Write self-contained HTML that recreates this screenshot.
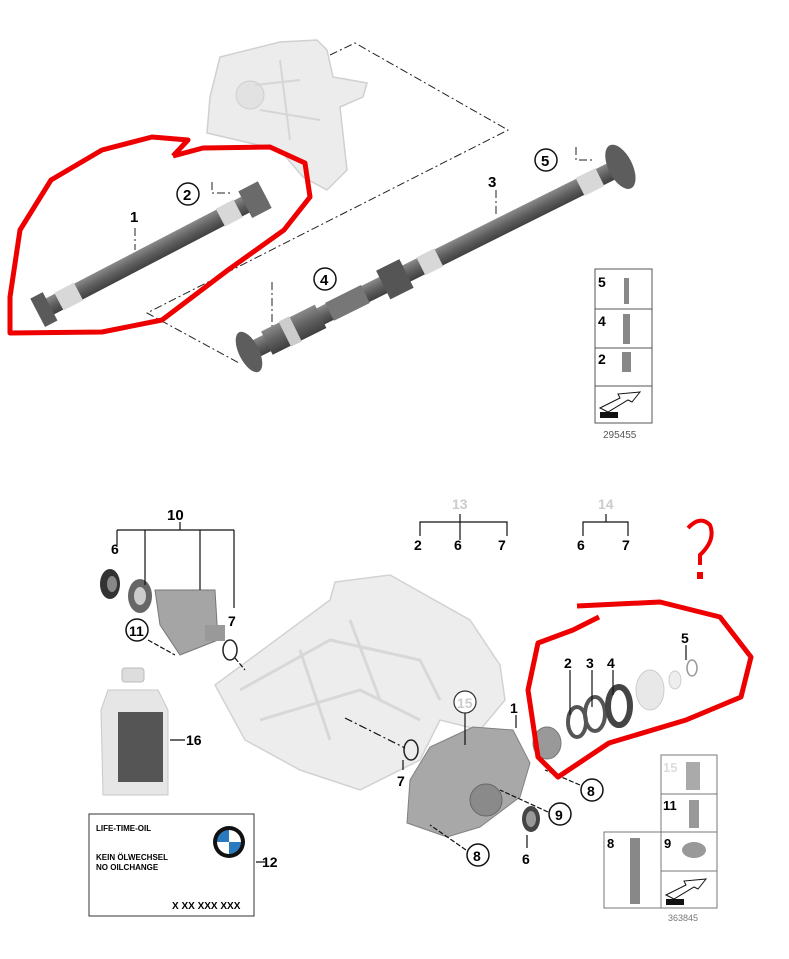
<!DOCTYPE html>
<html><head><meta charset="utf-8"><style>
html,body{margin:0;padding:0;background:#fff}
svg{display:block}
text{font-family:"Liberation Sans",Arial,sans-serif;font-weight:bold}
</style></head><body>
<svg width="789" height="959" viewBox="0 0 789 959" xmlns="http://www.w3.org/2000/svg">
<defs>
<linearGradient id="sh" x1="0" y1="0" x2="0" y2="1"><stop offset="0" stop-color="#8a8a8a"/><stop offset="0.5" stop-color="#606060"/><stop offset="1" stop-color="#404040"/></linearGradient>
</defs>
<path d="M220,57 L280,42 L317,40 L327,50 L333,77 L367,83 L363,97 L340,107 L347,170 L327,190 L303,177 L280,150 L207,133 L210,97 Z" fill="#ececec" stroke="#d0d0d0" stroke-width="1.5"/>
<circle cx="250" cy="95" r="14" fill="#e2e2e2" stroke="#cfcfcf"/>
<path d="M255,85 L300,80 M260,110 L320,120 M280,60 L290,140" stroke="#d6d6d6" stroke-width="2" fill="none"/>
<g stroke="#222" stroke-width="1" fill="none" stroke-dasharray="8,3,2,3">
<path d="M330,55 L355,43 L508,130 L147,313 L239,363"/>
<path d="M212,182 L212,193 L230,193"/>
<path d="M576,147 L576,160 L595,160"/>
<path d="M272,282 L272,335"/>
<path d="M135,228 L135,250"/>
<path d="M496,190 L496,215"/>
</g>
<g transform="translate(43,310) rotate(-27.5)">
<rect x="0" y="-9" width="250" height="18" fill="url(#sh)"/>
<rect x="18" y="-10" width="22" height="20" fill="#d8d8d8"/>
<rect x="200" y="-10" width="20" height="20" fill="#d8d8d8"/>
<rect x="-6" y="-16" width="14" height="32" fill="#5a5a5a"/>
<rect x="228" y="-15" width="22" height="30" fill="#6a6a6a"/>
</g>
<g transform="translate(249,352) rotate(-26.5)">
<rect x="0" y="-9" width="420" height="18" fill="url(#sh)"/>
<rect x="20" y="-13" width="60" height="26" fill="url(#sh)"/>
<rect x="40" y="-14" width="12" height="28" fill="#ccc"/>
<rect x="90" y="-10" width="40" height="20" fill="#777"/>
<rect x="150" y="-16" width="26" height="32" fill="#555"/>
<rect x="192" y="-10" width="20" height="20" fill="#d8d8d8"/>
<rect x="370" y="-10" width="22" height="20" fill="#d8d8d8"/>
<ellipse cx="0" cy="0" rx="10" ry="22" fill="#5d5d5d"/>
<ellipse cx="415" cy="0" rx="12" ry="24" fill="#5d5d5d"/>
</g>
<text x="130" y="222" font-size="15">1</text>
<text x="488" y="187" font-size="15">3</text>
<circle cx="188" cy="194" r="11" fill="#fff" stroke="#111" stroke-width="1.5"/><text x="183" y="200" font-size="15">2</text>
<circle cx="546" cy="160" r="11" fill="#fff" stroke="#111" stroke-width="1.5"/><text x="541" y="166" font-size="15">5</text>
<circle cx="325" cy="279" r="11" fill="#fff" stroke="#111" stroke-width="1.5"/><text x="320" y="285" font-size="15">4</text>
<g stroke="#555" fill="none" stroke-width="1">
<rect x="595" y="269" width="57" height="154"/>
<line x1="595" y1="309" x2="652" y2="309"/><line x1="595" y1="348" x2="652" y2="348"/><line x1="595" y1="386" x2="652" y2="386"/>
</g>
<text x="598" y="287" font-size="14">5</text><text x="598" y="326" font-size="14">4</text><text x="598" y="364" font-size="14">2</text>
<rect x="624" y="278" width="5" height="26" fill="#888"/><rect x="623" y="314" width="7" height="30" fill="#888"/><rect x="622" y="352" width="9" height="20" fill="#888"/>
<path d="M600,408 L620,398 L618,394 L640,392 L632,402 L628,400 L608,412 Z" fill="#fff" stroke="#111"/>
<rect x="600" y="412" width="18" height="6" fill="#111"/>
<text x="603" y="438" font-size="10" fill="#555" style="font-weight:normal">295455</text>
<path d="M173,156 L188,140 L152,137 L102,150 L51,180 L20,230 L10,297 L10,333 L102,332 L162,320 L228,270 L284,230 L310,197 L305,163 L270,147 L203,148 L173,156" fill="none" stroke="#e00" stroke-width="5" stroke-linejoin="round"/>

<path d="M215,685 L330,600 L335,582 L390,575 L470,620 L500,665 L505,700 L480,730 L440,720 L420,760 L360,790 L300,770 L245,740 Z" fill="#ededed" stroke="#d2d2d2" stroke-width="1.5"/>
<path d="M240,690 L330,640 L420,660 L440,700 M260,720 L360,690 L420,720 M300,650 L330,740 M350,620 L380,700" stroke="#d8d8d8" stroke-width="3" fill="none"/>
<path d="M410,780 L430,747 L473,727 L513,730 L530,763 L520,797 L480,827 L447,837 L407,823 Z" fill="#a8a8a8" stroke="#808080"/>
<circle cx="486" cy="800" r="16" fill="#8a8a8a" stroke="#666"/>
<ellipse cx="547" cy="743" rx="14" ry="16" fill="#999" stroke="#777"/>
<ellipse cx="531" cy="819" rx="9" ry="13" fill="#444"/><ellipse cx="531" cy="819" rx="5" ry="8" fill="#999"/>
<ellipse cx="577" cy="722" rx="9" ry="15" fill="none" stroke="#555" stroke-width="4"/>
<ellipse cx="595" cy="714" rx="10" ry="17" fill="none" stroke="#555" stroke-width="4"/>
<ellipse cx="619" cy="706" rx="11" ry="19" fill="none" stroke="#444" stroke-width="6"/>
<ellipse cx="650" cy="690" rx="14" ry="20" fill="#e8e8e8" stroke="#ccc"/>
<ellipse cx="675" cy="680" rx="6" ry="9" fill="#eee" stroke="#ccc"/>
<ellipse cx="692" cy="668" rx="5" ry="8" fill="none" stroke="#999" stroke-width="1.5"/>
<ellipse cx="110" cy="584" rx="10" ry="15" fill="#333"/><ellipse cx="112" cy="584" rx="5" ry="8" fill="#888"/>
<ellipse cx="140" cy="596" rx="12" ry="17" fill="#666"/><ellipse cx="140" cy="596" rx="6" ry="9" fill="#ccc"/>
<path d="M155,590 L215,590 L218,640 L180,655 L160,625 Z" fill="#a5a5a5" stroke="#777"/>
<rect x="205" y="625" width="20" height="16" fill="#999"/>
<ellipse cx="230" cy="650" rx="7" ry="10" fill="none" stroke="#222" stroke-width="1.5"/>
<ellipse cx="411" cy="750" rx="7" ry="10" fill="none" stroke="#222" stroke-width="1.5"/>
<g stroke="#111" stroke-width="1.2" fill="none">
<path d="M117,530 L234,530 M180,522 L180,530 M117,530 L117,545 M145,530 L145,585 M200,530 L200,590 M234,530 L234,608"/>
<path d="M420,536 L420,522 L507,522 L507,536 M460,514 L460,540"/>
<path d="M583,536 L583,522 L628,522 L628,536 M606,514 L606,522"/>
<path d="M570,670 L570,715 M592,670 L592,707 M613,670 L613,695 M686,645 L686,660"/>
<path d="M465,712 L465,745 M516,715 L516,728 M403,760 L403,770 M527,835 L527,848"/>
<path d="M148,640 L175,655 M580,785 L545,770 M548,812 L500,790 M466,850 L430,825 M235,658 L245,670" stroke-dasharray="5,2"/>
<path d="M345,718 L405,748" stroke-dasharray="8,3,2,3"/>
<path d="M170,740 L185,740 M256,862 L265,862"/>
</g>
<text x="167" y="520" font-size="15">10</text>
<text x="111" y="554" font-size="14">6</text>
<text x="228" y="626" font-size="14">7</text>
<circle cx="137" cy="630" r="11" fill="#fff" stroke="#111" stroke-width="1.5"/><text x="129" y="636" font-size="14">11</text>
<text x="452" y="509" font-size="14" fill="#ccc">13</text>
<text x="414" y="550" font-size="14">2</text><text x="454" y="550" font-size="14">6</text><text x="498" y="550" font-size="14">7</text>
<text x="598" y="509" font-size="14" fill="#ccc">14</text>
<text x="577" y="550" font-size="14">6</text><text x="622" y="550" font-size="14">7</text>
<text x="564" y="668" font-size="14">2</text><text x="586" y="668" font-size="14">3</text><text x="607" y="668" font-size="14">4</text>
<text x="681" y="643" font-size="14">5</text>
<text x="510" y="713" font-size="14">1</text>
<circle cx="465" cy="702" r="11" fill="#fff" stroke="#333" stroke-width="1.2"/><text x="457" y="708" font-size="14" fill="#ccc">15</text>
<text x="397" y="786" font-size="14">7</text>
<circle cx="592" cy="790" r="11" fill="#fff" stroke="#111" stroke-width="1.5"/><text x="587" y="796" font-size="14">8</text>
<circle cx="560" cy="814" r="11" fill="#fff" stroke="#111" stroke-width="1.5"/><text x="555" y="820" font-size="14">9</text>
<circle cx="478" cy="855" r="11" fill="#fff" stroke="#111" stroke-width="1.5"/><text x="473" y="861" font-size="14">8</text>
<text x="522" y="864" font-size="14">6</text>
<rect x="122" y="668" width="22" height="14" rx="3" fill="#ddd" stroke="#bbb"/>
<path d="M108,690 L158,690 L168,710 L168,795 L103,795 L101,710 Z" fill="#e6e6e6" stroke="#c8c8c8"/>
<rect x="118" y="712" width="45" height="70" fill="#555"/>
<text x="186" y="745" font-size="14">16</text>
<rect x="89" y="814" width="165" height="102" fill="#fff" stroke="#333"/>
<text x="96" y="831" font-size="8">LIFE-TIME-OIL</text>
<text x="96" y="860" font-size="8">KEIN ÖLWECHSEL</text>
<text x="96" y="870" font-size="8">NO OILCHANGE</text>
<text x="172" y="909" font-size="10">X XX XXX XXX</text>
<circle cx="229" cy="842" r="16" fill="#111"/>
<path d="M229,842 L229,830 A12,12 0 0 1 241,842 Z M229,842 L229,854 A12,12 0 0 1 217,842 Z" fill="#fff"/>
<path d="M229,842 L241,842 A12,12 0 0 1 229,854 Z M229,842 L217,842 A12,12 0 0 1 229,830 Z" fill="#2a7ac0"/>
<text x="262" y="867" font-size="14">12</text>
<g stroke="#777" fill="none" stroke-width="1">
<rect x="661" y="755" width="56" height="153"/>
<rect x="604" y="832" width="57" height="76"/>
<line x1="661" y1="794" x2="717" y2="794"/><line x1="661" y1="832" x2="717" y2="832"/><line x1="661" y1="871" x2="717" y2="871"/>
</g>
<text x="663" y="772" font-size="13" fill="#ddd">15</text>
<text x="663" y="810" font-size="13">11</text>
<text x="664" y="848" font-size="13">9</text>
<text x="607" y="848" font-size="13">8</text>
<rect x="686" y="762" width="14" height="28" fill="#aaa"/>
<rect x="689" y="800" width="10" height="28" fill="#999"/>
<ellipse cx="694" cy="850" rx="12" ry="8" fill="#999"/>
<rect x="630" y="838" width="10" height="66" fill="#888"/>
<path d="M666,895 L686,885 L684,881 L706,879 L698,889 L694,887 L674,899 Z" fill="#fff" stroke="#111"/>
<rect x="666" y="899" width="18" height="6" fill="#111"/>
<text x="668" y="921" font-size="9" fill="#777" style="font-weight:normal">363845</text>
<path d="M577,606 L660,602 L720,617 L751,657 L741,697 L686,720 L609,743 L558,777 L538,757 L528,690 L538,643 L573,630 L599,617" fill="none" stroke="#e00" stroke-width="5" stroke-linejoin="round"/>
<path d="M688,528 Q700,515 710,525 Q716,540 700,555 L700,565" fill="none" stroke="#e00" stroke-width="4"/>
<rect x="697" y="572" width="6" height="7" fill="#e00"/>
</svg>
</body></html>
